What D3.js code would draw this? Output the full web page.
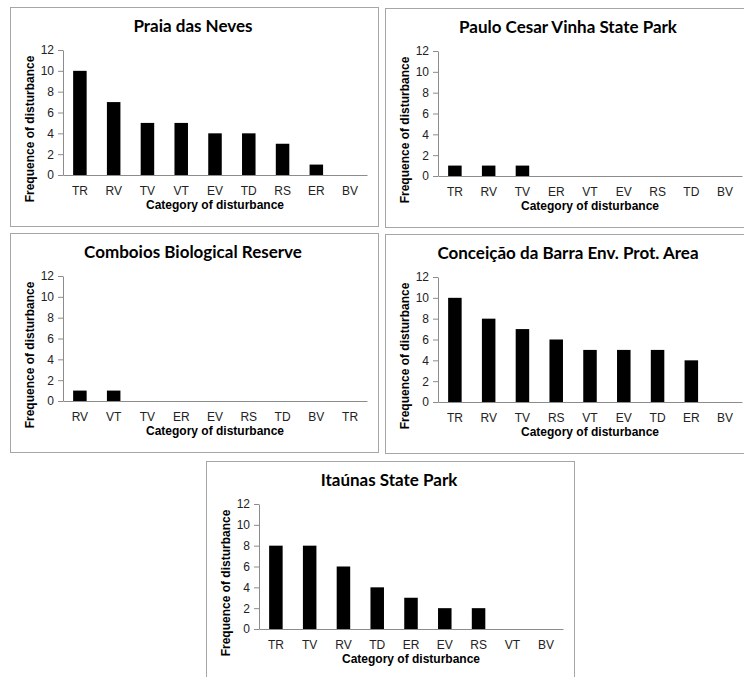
<!DOCTYPE html>
<meta charset="utf-8">
<style>
  body { margin: 0; background: #fff; }
  .frame { fill: #fff; stroke: #a6a6a6; stroke-width: 1; }
  .title { font-family: Lato, "Open Sans", sans-serif; font-weight: 700; font-size: 17px; fill: #000; text-anchor: middle; }
  .axis-title { font-family: "Liberation Sans", Arial, sans-serif; font-weight: 700; font-size: 12px; fill: #000; text-anchor: middle; }
  .axis text { font-family: "Liberation Sans", Arial, sans-serif; font-size: 12px; fill: #222; }
  .axis path, .axis line { stroke: #8c8c8c; }
  .bar { fill: #000; }
</style>
<body>
<script src="https://cdn.jsdelivr.net/npm/d3@7/dist/d3.min.js"></script>
<script>

var width = 744,
    height = 677;

// data, one pair of arrays per site
var titles = ["Praia das Neves", "Paulo Cesar Vinha State Park", "Comboios Biological Reserve",
              "Conceição da Barra Env. Prot. Area", "Itaúnas State Park"];

var catsNeves = ["TR", "RV", "TV", "VT", "EV", "TD", "RS", "ER", "BV"];
var valsNeves = [10, 7, 5, 5, 4, 4, 3, 1, 0];

var catsVinha = ["TR", "RV", "TV", "ER", "VT", "EV", "RS", "TD", "BV"];
var valsVinha = [1, 1, 1, 0, 0, 0, 0, 0, 0];

var catsComboios = ["RV", "VT", "TV", "ER", "EV", "RS", "TD", "BV", "TR"];
var valsComboios = [1, 1, 0, 0, 0, 0, 0, 0, 0];

var catsBarra = ["TR", "RV", "TV", "RS", "VT", "EV", "TD", "ER", "BV"];
var valsBarra = [10, 8, 7, 6, 5, 5, 5, 4, 0];

var catsItaunas = ["TR", "TV", "RV", "TD", "ER", "EV", "RS", "VT", "BV"];
var valsItaunas = [8, 8, 6, 4, 3, 2, 2, 0, 0];

var yTicks = [0, 2, 4, 6, 8, 10, 12];

var panels = [
  { title: titles[0], cats: catsNeves, vals: valsNeves, x: 10, y: 7 },
  { title: titles[1], cats: catsVinha, vals: valsVinha, x: 385, y: 8 },
  { title: titles[2], cats: catsComboios, vals: valsComboios, x: 10, y: 233 },
  { title: titles[3], cats: catsBarra, vals: valsBarra, x: 385, y: 234 },
  { title: titles[4], cats: catsItaunas, vals: valsItaunas, x: 206, y: 461 }
];

var pw = 368, ph = 219;
var plot = { left: 53, right: 357, top: 43, bottom: 168 };

var svg = d3.select("body").append("svg")
    .attr("width", width)
    .attr("height", height);

panels.forEach(function(p) {
  var g = svg.append("g")
      .attr("transform", "translate(" + p.x + "," + p.y + ")");

  g.append("rect")
      .attr("class", "frame")
      .attr("x", 0.5).attr("y", 0.5)
      .attr("width", pw).attr("height", ph);

  var x = d3.scaleBand()
      .domain(p.cats)
      .range([plot.left, plot.right])
      .paddingInner(0.6)
      .paddingOuter(0.3);

  var y = d3.scaleLinear()
      .domain([0, 12])
      .range([plot.bottom, plot.top]);

  g.selectAll(".bar")
      .data(p.cats.map(function(c, i) { return { cat: c, val: p.vals[i] }; }))
    .enter().append("rect")
      .attr("class", "bar")
      .attr("x", function(d) { return x(d.cat); })
      .attr("y", function(d) { return y(d.val); })
      .attr("width", x.bandwidth())
      .attr("height", function(d) { return y(0) - y(d.val); });

  g.append("g")
      .attr("class", "axis")
      .attr("transform", "translate(" + plot.left + ",0)")
      .call(d3.axisLeft(y).tickValues(yTicks).tickSize(5).tickSizeOuter(0).tickPadding(4));

  g.append("g")
      .attr("class", "axis")
      .attr("transform", "translate(0," + y(0) + ")")
      .call(d3.axisBottom(x).tickSize(0).tickPadding(11));

  g.append("text")
      .attr("class", "title")
      .attr("x", (plot.left + plot.right) / 2 - 22)
      .attr("y", 25)
      .text(p.title);

  g.append("text")
      .attr("class", "axis-title")
      .attr("x", (plot.left + plot.right) / 2)
      .attr("y", 202)
      .text("Category of disturbance");

  g.append("text")
      .attr("class", "axis-title")
      .attr("transform", "translate(24," + 122 + ") rotate(-90)")
      .text("Frequence of disturbance");
});

</script>
